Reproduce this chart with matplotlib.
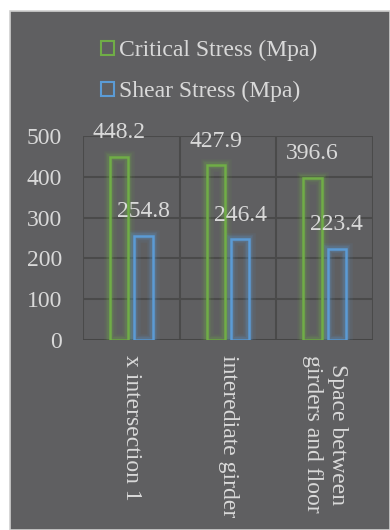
import matplotlib
matplotlib.use("Agg")
import matplotlib.pyplot as plt
from matplotlib.patches import Rectangle
import numpy as np

categories = ["x intersection 1", "interediate girder", "Space between\ngirders and floor"]
critical_stress = [448.2, 427.9, 396.6]
shear_stress = [254.8, 246.4, 223.4]
series_names = ["Critical Stress (Mpa)", "Shear Stress (Mpa)"]
y_ticks = [0, 100, 200, 300, 400, 500]

BG = "#5f5f61"
TEXT = "#d9d9d9"
GRID = "#4a4a4a"
GREEN = "#70ad47"
BLUE = "#5b9bd5"

plt.rcParams["font.family"] = ["Liberation Serif", "DejaVu Serif"]

fig = plt.figure(figsize=(3.9, 5.3), dpi=100)
fig.patch.set_facecolor("white")

# dark chart panel with a thin light border
panel = Rectangle((10 / 390, 0), 1 - 10 / 390, 1 - 11 / 530,
                  transform=fig.transFigure, facecolor=BG,
                  edgecolor="#d0d0d0", linewidth=1.2, zorder=-10)
fig.patches.append(panel)

ax = fig.add_axes([83 / 390, 1 - 340 / 530, 290 / 390, 204 / 530])
ax.set_facecolor(BG)
ax.set_xlim(-0.5, 2.5)
ax.set_ylim(0, 500)

x = np.arange(len(categories))
width = 0.19
offset = 0.125


def glow_bars(xpos, values, color):
    # soft halo behind the outlined bars
    for lw, a in [(9, 0.08), (6, 0.12), (4, 0.18)]:
        ax.bar(xpos, values, width, facecolor="none", edgecolor=color,
               linewidth=lw, alpha=a, zorder=2)
    return ax.bar(xpos, values, width, facecolor="none", edgecolor=color,
                  linewidth=1.8, zorder=3)


glow_bars(x - offset, critical_stress, GREEN)
glow_bars(x + offset, shear_stress, BLUE)

for xi, v in zip(x - offset, critical_stress):
    ax.annotate(f"{v:.1f}", (xi, v), xytext=(0, 17.5), textcoords="offset points",
                ha="center", va="center", color=TEXT, fontsize=17, annotation_clip=False)
for xi, v in zip(x + offset, shear_stress):
    ax.annotate(f"{v:.1f}", (xi, v), xytext=(0, 17.5), textcoords="offset points",
                ha="center", va="center", color=TEXT, fontsize=17, annotation_clip=False)

# grid: horizontal value lines and vertical category separators
ax.set_yticks(y_ticks)
ax.yaxis.grid(True, color=GRID, linewidth=1.5, zorder=1)
for b in [-0.5, 0.5, 1.5, 2.5]:
    ax.axvline(b, color=GRID, linewidth=1.5, zorder=1)
ax.set_axisbelow(True)
for s in ax.spines.values():
    s.set_visible(False)
ax.axhline(0, color="#444444", linewidth=1.8, zorder=1)

ax.tick_params(axis="y", length=0, pad=15, colors=TEXT, labelsize=17)
ax.set_xticks(x)
ax.set_xticklabels(categories, rotation=270, ha="center", va="top",
                   multialignment="center", linespacing=1.25)
ax.tick_params(axis="x", length=0, pad=11, colors=TEXT, labelsize=17)

handles = [Rectangle((0, 0), 1, 1, facecolor="none", edgecolor=GREEN, linewidth=1.5),
           Rectangle((0, 0), 1, 1, facecolor="none", edgecolor=BLUE, linewidth=1.5)]
leg = fig.legend(handles, series_names, loc="center", bbox_to_anchor=(209 / 390, 1 - 71 / 530),
                 frameon=False, fontsize=17, labelcolor=TEXT, handlelength=0.55,
                 handleheight=0.55, handletextpad=0.2, labelspacing=0.85)

fig.savefig("out.png", dpi=100, facecolor=fig.get_facecolor())
